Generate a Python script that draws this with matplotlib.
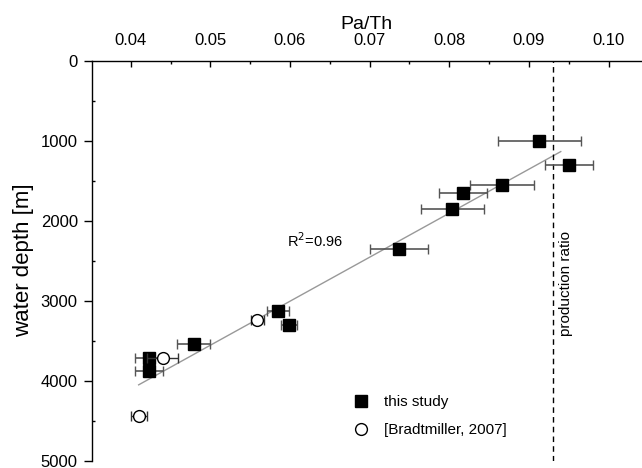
import numpy as np
import matplotlib.pyplot as plt
from matplotlib.ticker import MultipleLocator

plt.rcParams['font.family'] = ['Liberation Sans', 'DejaVu Sans']

# this study
pa_th = [0.0913, 0.0950, 0.0866, 0.0817, 0.0804, 0.0737, 0.0585, 0.0599, 0.0479, 0.0423, 0.0423]
pa_th_err = [0.0052, 0.0030, 0.0040, 0.0030, 0.0040, 0.0036, 0.0014, 0.0010, 0.0021, 0.0018, 0.0018]
depth = [1008, 1300, 1554, 1650, 1858, 2358, 3134, 3300, 3542, 3721, 3875]

# [Bradtmiller, 2007]
brad_pa_th = [0.0559, 0.0440, 0.0410]
brad_err = [0.0008, 0.0020, 0.0010]
brad_depth = [3242, 3721, 4438]

# regression line end points
fit_x = [0.0410, 0.0940]
fit_depth = [4054, 1138]

production_ratio = 0.093

fig = plt.figure(figsize=(6.42, 4.68), dpi=100)
ax = fig.add_axes([0.1428, 0.016, 0.8572, 0.8546])

ax.plot(fit_x, fit_depth, color='#999999', lw=1, zorder=1)
ax.axvline(production_ratio, color='black', ls=(0, (4, 3)), lw=1, zorder=1)

eb1 = ax.errorbar(pa_th, depth, xerr=pa_th_err, fmt='s', ms=8, mfc='black', mec='black',
                  ecolor='#555555', elinewidth=1.2, capsize=3.5, capthick=1, zorder=3)
eb2 = ax.errorbar(brad_pa_th, brad_depth, xerr=brad_err, fmt='o', ms=8.5, mfc='white',
                  mec='black', mew=1, ecolor='#333333', elinewidth=1, capsize=3.5,
                  capthick=1, zorder=4)

ax.text(0.0596, 2325, r'R$^2$=0.96', fontsize=10.5, va='baseline')
ax.text(0.0947, 2788, 'production ratio', rotation=90, fontsize=11, ha='center', va='center')

ax.set_xlim(0.0351, 0.1042)
ax.set_ylim(5000, 0)
ax.xaxis.tick_top()
ax.xaxis.set_label_position('top')
ax.set_xlabel('Pa/Th', fontsize=14, labelpad=3)
ax.set_ylabel('water depth [m]', fontsize=16, labelpad=5)

ax.xaxis.set_minor_locator(MultipleLocator(0.005))
ax.yaxis.set_major_locator(MultipleLocator(1000))
ax.yaxis.set_minor_locator(MultipleLocator(500))
ax.set_xticks([0.04, 0.05, 0.06, 0.07, 0.08, 0.09, 0.10])
ax.set_xticklabels(['0.04', '0.05', '0.06', '0.07', '0.08', '0.09', '0.10'])

ax.tick_params(axis='x', which='major', direction='in', length=4.5, width=1, pad=9, labelsize=12)
ax.tick_params(axis='x', which='minor', direction='in', length=2, width=1)
ax.tick_params(axis='y', which='major', direction='out', length=6, width=1, pad=4, labelsize=12)
ax.tick_params(axis='y', which='minor', direction='in', length=2, width=1)

for side in ['right', 'bottom']:
    ax.spines[side].set_visible(False)
for side in ['top', 'left']:
    ax.spines[side].set_linewidth(1)

ax.legend([eb1[0], eb2[0]], ['this study', '[Bradtmiller, 2007]'],
          loc='center left', bbox_to_anchor=(0.475, 0.111), frameon=False, fontsize=11,
          handlelength=1, handletextpad=1.0, borderpad=0, labelspacing=0.9, borderaxespad=0)

fig.savefig('out.png', dpi=100)
